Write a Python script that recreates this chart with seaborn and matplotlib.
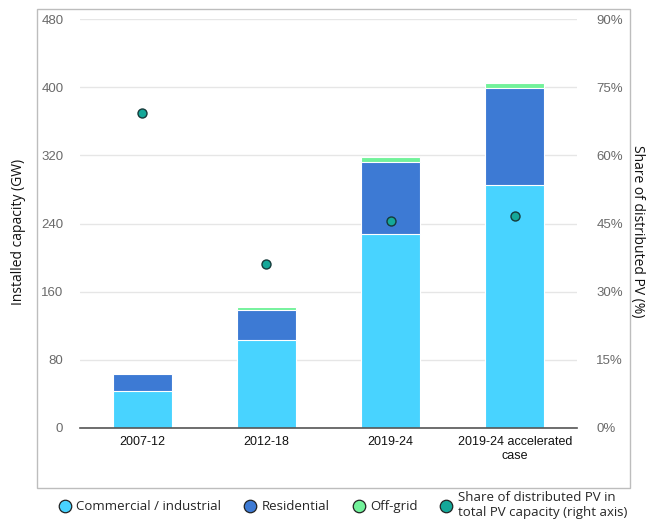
import matplotlib
matplotlib.use("Agg")
import matplotlib.pyplot as plt
from matplotlib.lines import Line2D
from matplotlib.patches import Rectangle
from matplotlib.ticker import FixedLocator, PercentFormatter
import seaborn as sns
import pandas as pd
import numpy as np

categories = ["2007-12", "2012-18", "2019-24", "2019-24 accelerated\ncase"]
commercial = [44, 103, 228, 285]
residential = [19, 36, 84, 114]
off_grid = [0, 3, 6, 6]
share_pct = [69.3, 36.1, 45.5, 46.7]

c_com = "#48D3FF"
c_res = "#3D7AD4"
c_off = "#72F29A"
c_share = "#14A899"

sns.set_theme(style="white")
plt.rcParams["font.family"] = ["Liberation Sans", "DejaVu Sans"]

df = pd.DataFrame({
    "cat": categories,
    "com": commercial,
    "res": residential,
    "off": off_grid,
})
df["lvl2"] = df["com"] + df["res"]
df["lvl3"] = df["lvl2"] + df["off"]

fig = plt.figure(figsize=(6.49, 5.29), dpi=100)
ax = fig.add_axes([80/649, 1-428/529, 497/649, 409/529])

bw = 0.475
sns.barplot(data=df, x="cat", y="lvl3", color=c_off, width=bw, saturation=1,
            edgecolor="white", linewidth=0.8, ax=ax)
sns.barplot(data=df, x="cat", y="lvl2", color=c_res, width=bw, saturation=1,
            edgecolor="white", linewidth=0.8, ax=ax)
sns.barplot(data=df, x="cat", y="com", color=c_com, width=bw, saturation=1,
            edgecolor="white", linewidth=0.8, ax=ax)

ax.set_ylim(0, 480)
ax.set_yticks([0, 80, 160, 240, 320, 400, 480])
ax.set_xlim(-0.5, len(categories) - 0.5)
ax.grid(axis="y", color="#e6e6e6", linewidth=1)
ax.set_axisbelow(True)
for s in ["top", "left", "right"]:
    ax.spines[s].set_visible(False)
ax.spines["bottom"].set_color("#555555")
ax.spines["bottom"].set_linewidth(1.2)
ax.set_xlabel("")
ax.set_ylabel("Installed capacity (GW)", family=["Open Sans", "DejaVu Sans"],
              fontsize=10, color="#111111", va="center")
ax.yaxis.set_label_coords(-0.124, 0.48)
ax.tick_params(axis="y", length=0, pad=12, labelsize=9.5, labelcolor="#6a6a6a")
ax.tick_params(axis="x", which="major", length=0, pad=6, labelsize=9, labelcolor="#111111")
ax.xaxis.set_minor_locator(FixedLocator(np.arange(-0.5, len(categories), 1.0)))
ax.tick_params(axis="x", which="minor", length=7, width=1.2, color="#555555", direction="out")

ax2 = ax.twinx()
sns.scatterplot(x=np.arange(len(categories)), y=share_pct, color=c_share, s=42,
                edgecolor="#153a3a", linewidth=1, ax=ax2, zorder=5)
ax2.set_ylim(0, 90)
ax2.set_yticks([0, 15, 30, 45, 60, 75, 90])
ax2.yaxis.set_major_formatter(PercentFormatter(decimals=0))
for s in ["top", "left", "right", "bottom"]:
    ax2.spines[s].set_visible(False)
ax2.tick_params(axis="y", length=0, pad=14, labelsize=9.5, labelcolor="#6a6a6a")
ax2.set_ylabel("Share of distributed PV (%)", family=["Open Sans", "DejaVu Sans"],
               fontsize=10, color="#111111", rotation=270, va="center", ha="center")
ax2.yaxis.set_label_coords(1.122, 0.48)
ax2.grid(False)

fig.patches.append(Rectangle((37/649, 1-488/529), 593/649, 479/529,
                             transform=fig.transFigure, fill=False,
                             edgecolor="#bdbdbd", linewidth=1))

handles = [
    Line2D([], [], marker="o", linestyle="", markersize=9, markerfacecolor=c, markeredgecolor="#222222", markeredgewidth=0.9)
    for c in [c_com, c_res, c_off, c_share]
]
labels = ["Commercial / industrial", "Residential", "Off-grid",
          "Share of distributed PV in\ntotal PV capacity (right axis)"]
fig.legend(handles, labels, loc="center", bbox_to_anchor=(0.527, 0.045), ncol=4,
           frameon=False, prop={"family": ["Open Sans", "DejaVu Sans"], "size": 9.5},
           handletextpad=0.25, columnspacing=1.6, handlelength=1.2, labelspacing=0)

fig.savefig("out.png", dpi=100)
